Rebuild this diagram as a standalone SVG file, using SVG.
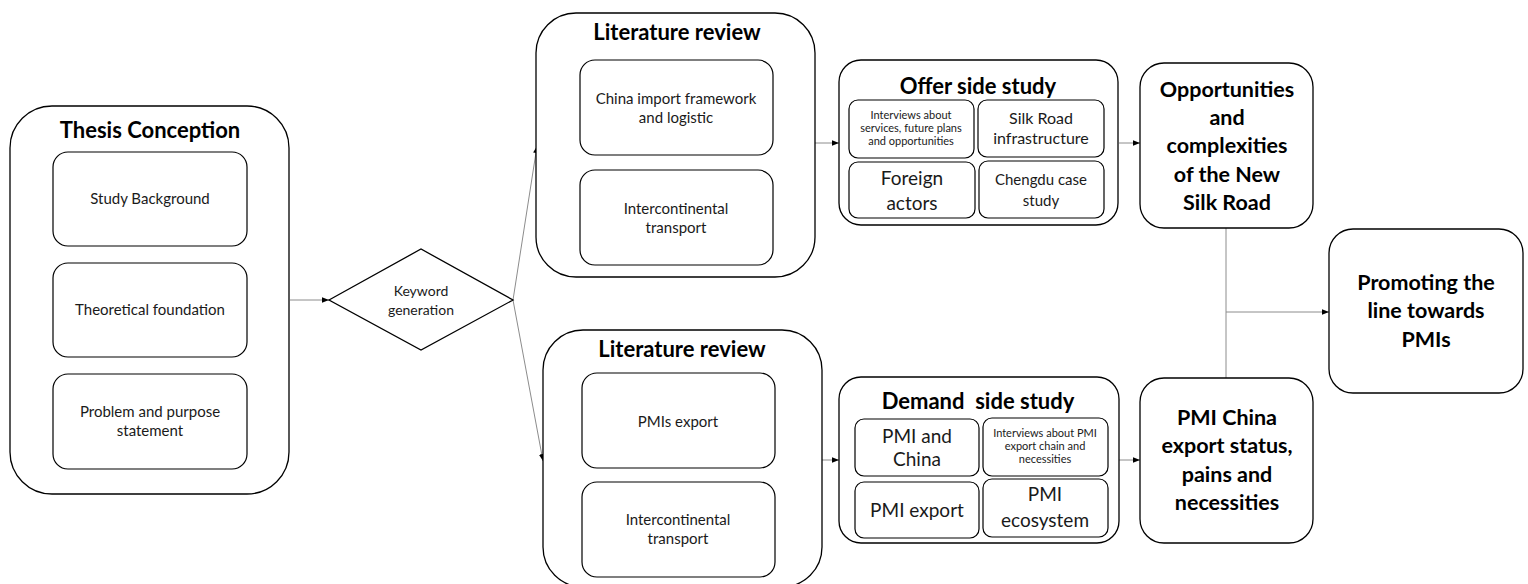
<svg xmlns="http://www.w3.org/2000/svg" width="1528" height="584" viewBox="0 0 1528 584">
  <defs>
    <marker id="arrow" viewBox="0 0 10 10" refX="10" refY="5" markerWidth="7" markerHeight="7" markerUnits="userSpaceOnUse" orient="auto">
      <path d="M0,1 L10,5 L0,9 z" fill="#000"/>
    </marker>
    <style>
      .box { fill: #fff; stroke: #000; stroke-width: 1.3; }
      .inner { fill: #fff; stroke: #000; stroke-width: 1.2; }
      .title { font-family: Lato, "Liberation Sans", sans-serif; font-weight: bold; font-size: 22px; fill: #000; text-anchor: middle; }
      .label { font-family: Lato, "Liberation Sans", sans-serif; font-size: 15px; fill: #1a1a1a; text-anchor: middle; }
      .small { font-size: 11px; }
      .big { font-family: Lato, "Liberation Sans", sans-serif; font-weight: bold; font-size: 21.5px; fill: #000; text-anchor: middle; }
      .link { fill: none; stroke: #8c8c8c; stroke-width: 1; }
    </style>
  </defs>

  <rect width="1528" height="584" fill="#fff"/>

  <!-- connectors -->
  <g id="connectors">
    <line class="link" x1="290" y1="300" x2="329" y2="300" marker-end="url(#arrow)"/>
    <line class="link" x1="513" y1="300" x2="537" y2="146" marker-end="url(#arrow)"/>
    <line class="link" x1="513" y1="300" x2="543" y2="461" marker-end="url(#arrow)"/>
    <line class="link" x1="815" y1="143" x2="839" y2="143" marker-end="url(#arrow)"/>
    <line class="link" x1="822" y1="460" x2="839" y2="460" marker-end="url(#arrow)"/>
    <line class="link" x1="1119" y1="143" x2="1140" y2="143" marker-end="url(#arrow)"/>
    <line class="link" x1="1119" y1="460" x2="1140" y2="460" marker-end="url(#arrow)"/>
    <line class="link" x1="1226" y1="228" x2="1226" y2="378"/>
    <line class="link" x1="1226" y1="312" x2="1329" y2="312" marker-end="url(#arrow)"/>
  </g>

  <!-- thesis conception -->
  <g id="thesis-conception">
    <rect class="box" x="10" y="106" width="279" height="388" rx="42"/>
    <text class="title" x="150" y="138">Thesis Conception</text>
    <rect class="inner" x="53" y="152" width="194" height="94" rx="15"/>
    <text class="label" x="150" y="204">Study Background</text>
    <rect class="inner" x="53" y="263" width="194" height="94" rx="15"/>
    <text class="label" x="150" y="315">Theoretical foundation</text>
    <rect class="inner" x="53" y="374" width="194" height="95" rx="15"/>
    <text class="label" x="150" y="417">Problem and purpose</text>
    <text class="label" x="150" y="436">statement</text>
  </g>

  <!-- keyword generation -->
  <g id="keyword-generation">
    <polygon class="box" points="329,300 421,249 513,300 421,350"/>
    <text class="label" x="421" y="296" style="font-size:14px">Keyword</text>
    <text class="label" x="421" y="315" style="font-size:14px">generation</text>
  </g>

  <!-- literature review (upper) -->
  <g id="literature-review-top">
    <rect class="box" x="536" y="13" width="279" height="264" rx="40"/>
    <text class="title" x="677" y="40">Literature review</text>
    <rect class="inner" x="580" y="60" width="193" height="95" rx="15"/>
    <text class="label" x="676" y="104">China import framework</text>
    <text class="label" x="676" y="123">and logistic</text>
    <rect class="inner" x="580" y="170" width="193" height="95" rx="15"/>
    <text class="label" x="676" y="214">Intercontinental</text>
    <text class="label" x="676" y="233">transport</text>
  </g>

  <!-- literature review (lower) -->
  <g id="literature-review-bottom">
    <rect class="box" x="543" y="330" width="279" height="257" rx="40"/>
    <text class="title" x="682" y="357">Literature review</text>
    <rect class="inner" x="582" y="373" width="193" height="95" rx="15"/>
    <text class="label" x="678" y="427">PMIs export</text>
    <rect class="inner" x="582" y="482" width="193" height="95" rx="15"/>
    <text class="label" x="678" y="525">Intercontinental</text>
    <text class="label" x="678" y="544">transport</text>
  </g>

  <!-- offer side study -->
  <g id="offer-side-study">
    <rect class="box" x="839" y="60" width="279" height="165" rx="22"/>
    <text class="title" x="978" y="94">Offer side study</text>
    <rect class="inner" x="849" y="100" width="125" height="58" rx="9"/>
    <text class="label small" x="911" y="119">Interviews about</text>
    <text class="label small" x="911" y="132">services, future plans</text>
    <text class="label small" x="911" y="145">and opportunities</text>
    <rect class="inner" x="978" y="100" width="126" height="57" rx="9"/>
    <text class="label" x="1041" y="124" style="font-size:16px">Silk Road</text>
    <text class="label" x="1041" y="144" style="font-size:16px">infrastructure</text>
    <rect class="inner" x="849" y="162" width="126" height="56" rx="9"/>
    <text class="label" x="912" y="185" style="font-size:19px">Foreign</text>
    <text class="label" x="912" y="210" style="font-size:19px">actors</text>
    <rect class="inner" x="979" y="161" width="125" height="57" rx="9"/>
    <text class="label" x="1041" y="185" style="font-size:15px">Chengdu case</text>
    <text class="label" x="1041" y="206" style="font-size:15px">study</text>
  </g>

  <!-- demand side study -->
  <g id="demand-side-study">
    <rect class="box" x="839" y="377" width="280" height="166" rx="22"/>
    <text class="title" x="978" y="409" xml:space="preserve">Demand  side study</text>
    <rect class="inner" x="855" y="419" width="124" height="57" rx="9"/>
    <text class="label" x="917" y="443" style="font-size:19px">PMI and</text>
    <text class="label" x="917" y="466" style="font-size:19px">China</text>
    <rect class="inner" x="983" y="418" width="125" height="58" rx="9"/>
    <text class="label small" x="1045" y="437">Interviews about PMI</text>
    <text class="label small" x="1045" y="450">export chain and</text>
    <text class="label small" x="1045" y="463">necessities</text>
    <rect class="inner" x="855" y="482" width="124" height="56" rx="9"/>
    <text class="label" x="917" y="517" style="font-size:19px">PMI export</text>
    <rect class="inner" x="983" y="479" width="125" height="58" rx="9"/>
    <text class="label" x="1045" y="501" style="font-size:19px">PMI</text>
    <text class="label" x="1045" y="527" style="font-size:19px">ecosystem</text>
  </g>

  <!-- opportunities -->
  <g id="opportunities">
    <rect class="box" x="1140" y="63" width="173" height="165" rx="24"/>
    <text class="big" x="1227" y="97">Opportunities</text>
    <text class="big" x="1227" y="125">and</text>
    <text class="big" x="1227" y="153">complexities</text>
    <text class="big" x="1227" y="182">of the New</text>
    <text class="big" x="1227" y="210">Silk Road</text>
  </g>

  <!-- pmi china -->
  <g id="pmi-china">
    <rect class="box" x="1140" y="378" width="173" height="165" rx="24"/>
    <text class="big" x="1227" y="425">PMI China</text>
    <text class="big" x="1227" y="453">export status,</text>
    <text class="big" x="1227" y="482">pains and</text>
    <text class="big" x="1227" y="510">necessities</text>
  </g>

  <!-- promoting -->
  <g id="promoting">
    <rect class="box" x="1329" y="229" width="194" height="164" rx="24"/>
    <text class="big" x="1426" y="290">Promoting the</text>
    <text class="big" x="1426" y="318">line towards</text>
    <text class="big" x="1426" y="347">PMIs</text>
  </g>
</svg>
